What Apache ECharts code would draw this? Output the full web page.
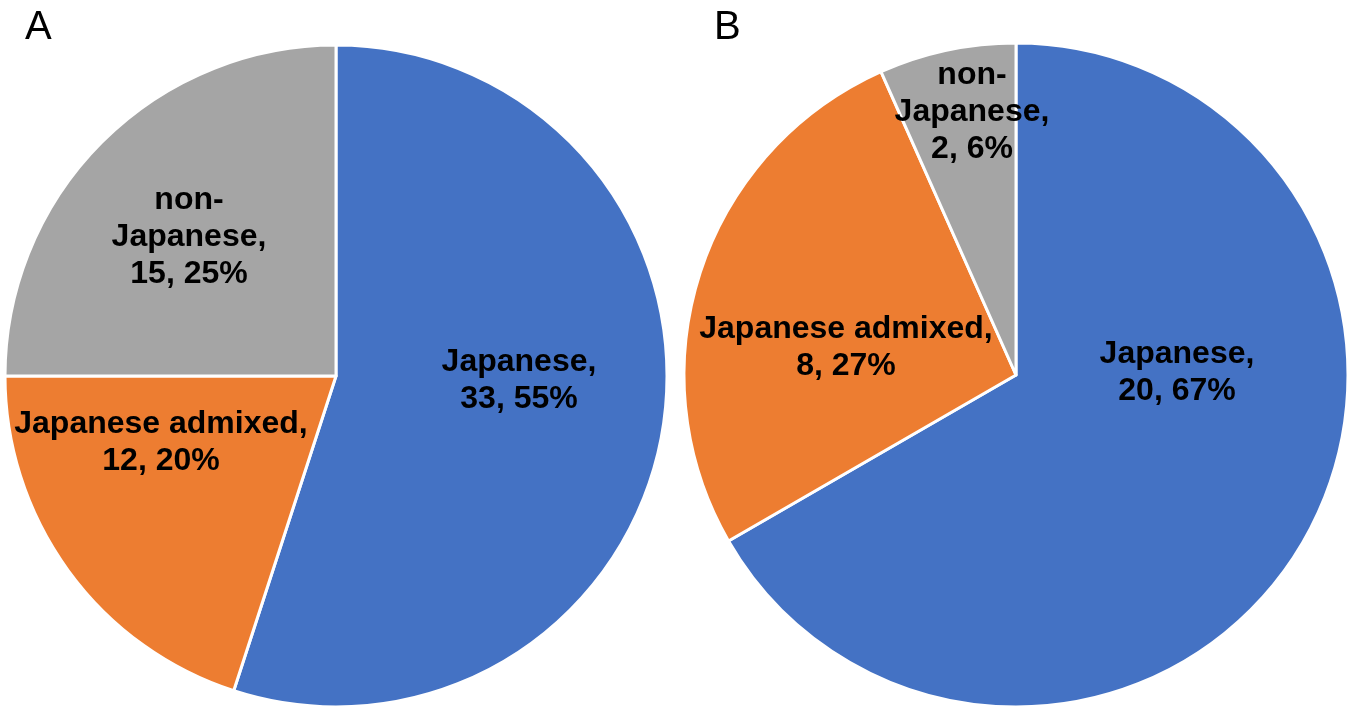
<!DOCTYPE html>
<html>
<head>
<meta charset="utf-8">
<script src="https://cdn.jsdelivr.net/npm/echarts@6/dist/echarts.min.js"></script>
<style>
html,body{margin:0;padding:0;background:#fff;}
#chart{width:1355px;height:710px;}
</style>
</head>
<body>
<div id="chart"></div>
<script>
const categories = ['Japanese', 'Japanese admixed', 'non-Japanese'];
const valuesA = [33, 12, 15];
const percentA = [55, 20, 25];
const valuesB = [20, 8, 2];
const percentB = [67, 27, 6];
const colors = ['#4472C4', '#ED7D31', '#A5A5A5'];
const panelTitles = ['A', 'B'];

// label text wrapping as in the original
const nameLines = {
  'Japanese': 'Japanese,',
  'Japanese admixed': 'Japanese admixed,',
  'non-Japanese': 'non-\nJapanese,'
};

// label centre positions (px) for each panel
const labelPosA = [[519, 381], [161, 443], [189, 237]];
const labelPosB = [[1177, 373], [846, 348], [972, 112]];

function buildData(vals) {
  return categories.map((c, i) => ({ name: c, value: vals[i] }));
}

function makeSeries(vals, pcts, center, radius, pos) {
  return {
    type: 'pie',
    center: center,
    radius: radius,
    startAngle: 90,
    clockwise: true,
    avoidLabelOverlap: false,
    data: buildData(vals),
    itemStyle: { borderColor: '#ffffff', borderWidth: 3 },
    label: {
      show: true,
      position: 'inside',
      rotate: 0,
      color: '#000',
      fontFamily: 'Liberation Sans, Arial, sans-serif',
      fontWeight: 'bold',
      fontSize: 32,
      lineHeight: 37,
      align: 'center',
      formatter: function (p) {
        return nameLines[p.name] + '\n' + p.value + ', ' + pcts[p.dataIndex] + '%';
      }
    },
    labelLine: { show: false },
    labelLayout: function (p) {
      return { x: pos[p.dataIndex][0], y: pos[p.dataIndex][1], align: 'center', verticalAlign: 'middle' };
    },
    emphasis: { disabled: true },
    animation: false
  };
}

const chart = echarts.init(document.getElementById('chart'));
chart.setOption({
  backgroundColor: '#ffffff',
  color: colors,
  title: [
    { text: panelTitles[0], left: 20, top: 3, textStyle: { fontFamily: 'Liberation Sans, Arial, sans-serif', fontWeight: 'normal', fontSize: 40, color: '#000' } },
    { text: panelTitles[1], left: 709, top: 3, textStyle: { fontFamily: 'Liberation Sans, Arial, sans-serif', fontWeight: 'normal', fontSize: 40, color: '#000' } }
  ],
  series: [
    makeSeries(valuesA, percentA, [336, 376], 331, labelPosA),
    makeSeries(valuesB, percentB, [1016, 375], 332, labelPosB)
  ]
});
</script>
</body>
</html>
